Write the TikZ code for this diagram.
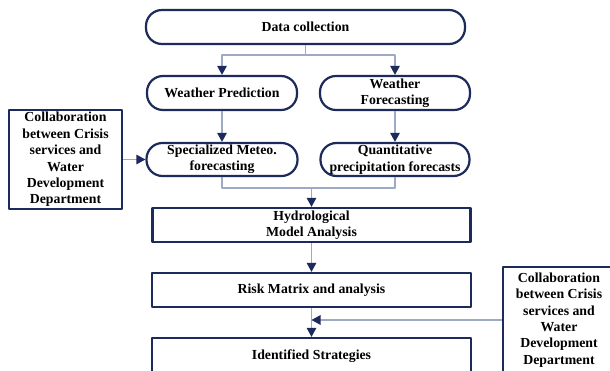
\documentclass[tikz,border=0pt]{standalone}
\usepackage{fontspec}
\setmainfont{Liberation Serif}
\usetikzlibrary{arrows.meta}
\definecolor{boxnavy}{RGB}{28,42,92}
\definecolor{linegray}{RGB}{158,170,196}

\begin{document}
\begin{tikzpicture}[>={Triangle[length=9bp,width=9.5bp,color=boxnavy]},line join=bevel,
  every node/.style={font=\fontsize{13.8bp}{16.4bp}\selectfont\bfseries,align=center,inner sep=2bp},
  roundbox/.style={draw=boxnavy,line width=2.2bp,rounded corners=16bp,minimum height=34bp},
  plainbox/.style={draw=boxnavy,line width=2.2bp,minimum height=34bp},
  conn/.style={draw=linegray,line width=1.3bp}]
\clip (0bp,0bp) rectangle (610bp,371bp);
%%
\node (data) at (305.5bp,344bp) [roundbox,minimum width=319bp] {Data collection};
  \node (wpred) at (222bp,278bp) [roundbox,minimum width=150bp] {Weather Prediction};
  \node (wfore) at (395bp,278bp) [roundbox,minimum width=150bp] {Weather\\Forecasting};
  \node (spec) at (222bp,211.5bp) [roundbox,minimum width=151bp,minimum height=33bp] {Specialized Meteo.\\forecasting};
  \node (quant) at (395bp,211.5bp) [roundbox,minimum width=149bp,minimum height=33bp] {Quantitative\\precipitation forecasts};
  \node (hydro) at (311.5bp,146bp) [plainbox,minimum width=318bp] {Hydrological\\Model Analysis};
  \node (risk) at (311.5bp,81bp) [plainbox,minimum width=319bp] {Risk Matrix and analysis};
  \node (ident) at (311.5bp,15bp) [plainbox,minimum width=319bp,minimum height=36bp] {Identified Strategies};
  \node (collabL) at (65.5bp,211.5bp) [plainbox,minimum width=113bp,minimum height=99bp] {Collaboration\\between Crisis\\services and\\Water\\Development\\Department};
  \node (collabR) at (559bp,51bp) [plainbox,minimum width=112bp,minimum height=106bp] {Collaboration\\between Crisis\\services and\\Water\\Development\\Department};
  \coordinate (split) at (305.5bp,316bp);
  \coordinate (join) at (311.5bp,183bp);
  \coordinate (merge) at (311.5bp,51bp);
  \draw [conn] (data) -- (split);
  \draw [conn,->] (split) -| (wpred);
  \draw [conn,->] (split) -| (wfore);
  \draw [conn,->] (wpred) -- (spec);
  \draw [conn,->] (wfore) -- (quant);
  \draw [conn] (spec) |- (join);
  \draw [conn] (quant) |- (join);
  \draw [conn,->] (join) -- (hydro);
  \draw [conn,->] (hydro) -- (risk);
  \draw [conn,->] (risk) -- (ident);
  \draw [conn,->] (collabL) -- (spec);
  \draw [conn,->] (collabR) -- (merge);
%
\end{tikzpicture}
\end{document}
